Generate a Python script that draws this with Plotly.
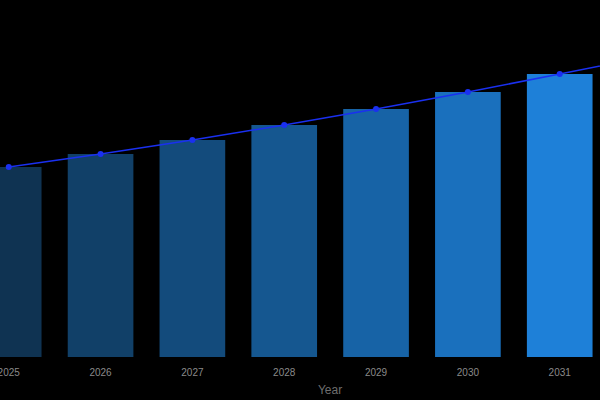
import plotly.graph_objects as go

# Data (2032 sits just past the right edge)
years = [2025, 2026, 2027, 2028, 2029, 2030, 2031, 2032]
values = [19.0, 20.3, 21.7, 23.2, 24.8, 26.5, 28.3, 30.1]

# dark -> light blue, one per bar
bar_colors = ["#0f3352", "#114068", "#134b7c", "#155790",
              "#1763a6", "#1a70bd", "#1e80d8", "#2290ee"]

fig = go.Figure()

fig.add_trace(go.Bar(
    x=years, y=values,
    marker=dict(color=bar_colors, line=dict(width=0)),
    width=0.715,
    showlegend=False,
))

fig.add_trace(go.Scatter(
    x=years, y=values,
    mode="lines+markers",
    line=dict(color="#1a30f0", width=1.5),
    marker=dict(color="#1a30f0", size=6),
    showlegend=False,
))

fig.update_layout(
    width=660, height=400,
    paper_bgcolor="#000000",
    plot_bgcolor="#000000",
    margin=dict(l=0, r=0, t=0, b=43),
    font=dict(family="Arial, Liberation Sans, sans-serif", color="#888888"),
    xaxis=dict(
        range=[2024.905, 2032.092],
        automargin=False,
        tickmode="array",
        tickvals=years[:-1],
        ticktext=[str(y) for y in years[:-1]],
        ticks="outside", ticklen=6, tickcolor="rgba(0,0,0,0)",
        tickfont=dict(size=10, color="#8a8a8a"),
        ticklabeloverflow="allow",
        title=dict(text="Year", font=dict(size=12, color="#6e6e6e"), standoff=8),
        showgrid=False, zeroline=False, showline=False,
    ),
    yaxis=dict(
        range=[0, 35.7],
        visible=False,
        automargin=False,
        showgrid=False, zeroline=False,
    ),
)

# page edge flush with the figure, black behind it
page_css = "document.body.style.margin='0';document.body.style.background='#000';"

fig.write_html("out.html", post_script=page_css, config={"displayModeBar": False})
